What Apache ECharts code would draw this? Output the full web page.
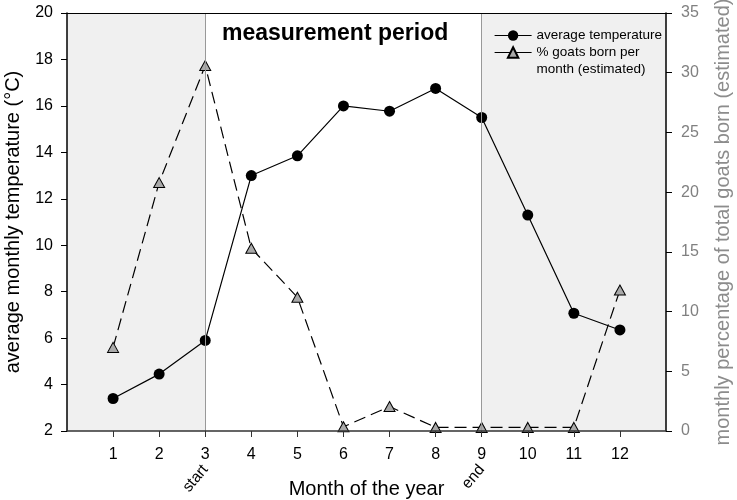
<!DOCTYPE html>
<html>
<head>
<meta charset="utf-8">
<script src="https://cdn.jsdelivr.net/npm/echarts@6/dist/echarts.min.js"></script>
<style>html,body{margin:0;padding:0;background:#fff;}#c{width:737px;height:500px;}</style>
</head>
<body>
<div id="c"></div>
<script>
var months = [1, 2, 3, 4, 5, 6, 7, 8, 9, 10, 11, 12];
var temperature = [3.4, 4.45, 5.9, 13.0, 13.85, 16.0, 15.77, 16.75, 15.5, 11.3, 7.07, 6.35];
var goatsBorn = [7.0, 20.8, 30.6, 15.3, 11.2, 0.35, 2.05, 0.3, 0.3, 0.3, 0.3, 11.8];
var periodMonths = [3, 9];
var periodNames = ['start', 'end'];
var shadeRanges = [[0, 3], [9, 13]];
var tempName = 'average temperature';
var goatName = '% goats born per\nmonth (estimated)';

var font = 'Liberation Sans, Arial, sans-serif';
function pairs(xs, ys) { return xs.map(function (x, i) { return [x, ys[i]]; }); }

var chart = echarts.init(document.getElementById('c'), null, { renderer: 'canvas' });
chart.setOption({
  animation: false,
  backgroundColor: '#fff',
  title: {
    text: 'measurement period',
    left: 217, top: 17,
    textStyle: { fontFamily: font, fontSize: 23, fontWeight: 'bold', color: '#000' }
  },
  legend: {
    orient: 'vertical',
    left: 489, top: 22,
    itemWidth: 37, itemHeight: 13, itemGap: -17,
    textStyle: { fontFamily: font, fontSize: 13.5, color: '#000', lineHeight: 17 },
    lineStyle: { type: 'solid', width: 1.2, color: '#000' },
    formatter: function (name) { return name === goatName ? ' \n' + name : name; },
    data: [tempName, goatName]
  },
  grid: { left: 67, right: 71, top: 13, bottom: 69, outerBoundsMode: 'none', containLabel: false },
  xAxis: [{
    type: 'value', min: 0, max: 13, interval: 1, z: 5,
    name: 'Month of the year', nameLocation: 'middle', nameGap: 48,
    nameTextStyle: { fontFamily: font, fontSize: 20, color: '#000' },
    axisLine: { show: true, onZero: false, lineStyle: { color: '#333', width: 1.5 } },
    axisTick: { show: true, length: 6, lineStyle: { color: '#333' }, customValues: months },
    axisLabel: { fontFamily: font, fontSize: 16, color: '#000', margin: 16, customValues: months },
    splitLine: { show: false }
  }, {
    type: 'value', min: 0, max: 13, interval: 1, position: 'bottom',
    axisLine: { show: false, onZero: false }, axisTick: { show: false }, splitLine: { show: false },
    axisLabel: {
      rotate: 50, fontFamily: font, fontSize: 15.5, color: '#000', margin: 36,
      customValues: periodMonths,
      formatter: function (v) { var i = periodMonths.indexOf(v); return i >= 0 ? periodNames[i] : ''; }
    }
  }, {
    type: 'value', min: 0, max: 13, position: 'top', z: 5,
    axisLine: { show: true, onZero: false, lineStyle: { color: '#000', width: 1.2 } },
    axisTick: { show: false }, axisLabel: { show: false }, splitLine: { show: false }
  }],
  yAxis: [{
    type: 'value', min: 2, max: 20, interval: 2, position: 'left', z: 5,
    name: 'average monthly temperature (°C)', nameLocation: 'middle', nameGap: 44,
    nameTextStyle: { fontFamily: font, fontSize: 20, color: '#000' },
    axisLine: { show: true, onZero: false, lineStyle: { color: '#000', width: 1.5 } },
    axisTick: { show: true, length: 6, lineStyle: { color: '#000' } },
    axisLabel: { fontFamily: font, fontSize: 16, color: '#000', margin: 14 },
    splitLine: { show: false }
  }, {
    type: 'value', min: 0, max: 35, interval: 5, position: 'right', z: 5,
    name: 'monthly percentage of total goats born (estimated)', nameLocation: 'middle', nameGap: 47,
    nameRotate: 90,
    nameTextStyle: { fontFamily: font, fontSize: 20, color: '#8c8c8c' },
    axisLine: { show: true, onZero: false, lineStyle: { color: '#000', width: 1.5 } },
    axisTick: { show: true, length: 6, lineStyle: { color: '#000' } },
    axisLabel: { fontFamily: font, fontSize: 16, color: '#808080', margin: 15 },
    splitLine: { show: false }
  }],
  series: [{
    name: tempName, type: 'line', xAxisIndex: 0, yAxisIndex: 0,
    data: pairs(months, temperature),
    symbol: 'circle', symbolSize: 11,
    itemStyle: { color: '#000' },
    lineStyle: { color: '#000', width: 1.2 },
    z: 3,
    markArea: {
      silent: true,
      itemStyle: { color: '#f0f0f0' },
      data: shadeRanges.map(function (r) { return [{ xAxis: r[0] }, { xAxis: r[1] }]; })
    },
    markLine: {
      silent: true, symbol: 'none', label: { show: false },
      lineStyle: { color: '#999', type: 'solid', width: 1 },
      data: periodMonths.map(function (m) { return { xAxis: m }; })
    }
  }, {
    name: goatName, type: 'line', xAxisIndex: 0, yAxisIndex: 1,
    data: pairs(months, goatsBorn),
    symbol: 'triangle', symbolSize: [11, 10],
    itemStyle: { color: '#a9a9a9', borderColor: '#000', borderWidth: 1 },
    lineStyle: { color: '#000', width: 1.2, type: [12, 6] },
    z: 4
  }]
});
</script>
</body>
</html>
